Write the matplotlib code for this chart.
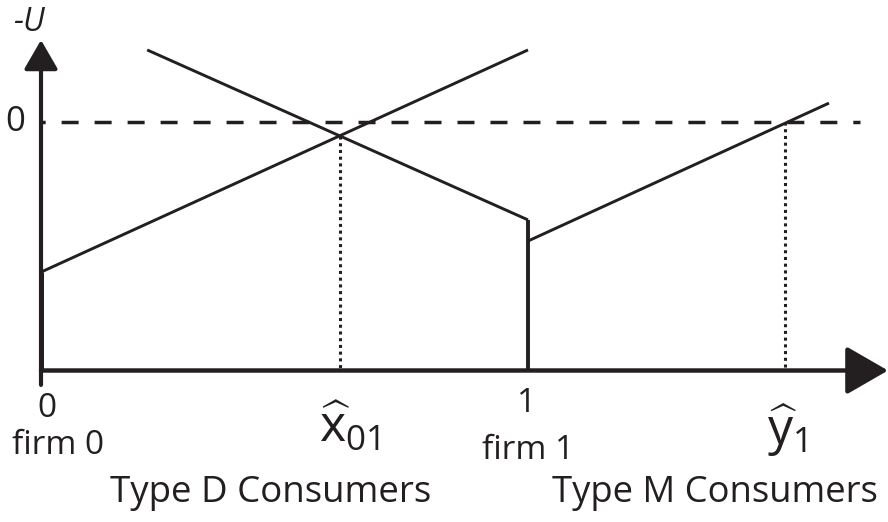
import matplotlib
matplotlib.use("Agg")
import matplotlib.pyplot as plt

plt.rcParams["mathtext.fontset"] = "custom"
plt.rcParams["mathtext.rm"] = "Open Sans"
plt.rcParams["mathtext.it"] = "Open Sans:italic"

# ---- data ----
firm_x = [0.0, 1.0]                 # firm locations
firm_labels = ["firm 0", "firm 1"]
tick_labels = ["0", "1"]
base_u = -1.0                       # level of the horizontal axis

d_firm0_x = [0.0, 1.0]              # Type D consumers, utility cost from firm 0
d_firm0_u = [-0.604, 0.290]
d_firm1_x = [0.218, 1.0]            # Type D consumers, utility cost from firm 1
d_firm1_u = [0.290, -0.394]
m_firm1_x = [1.0, 1.618]            # Type M consumers, utility cost from firm 1
m_firm1_u = [-0.479, 0.076]

x_hat01 = 0.614                     # indifferent type D consumer
u_hat01 = -0.056
y_hat1 = 1.528                      # marginal type M consumer
zero_line_end = 1.682
group_labels = ["Type D Consumers", "Type M Consumers"]
hat_labels = [r"$\widehat{\mathrm{x}}_{\mathrm{01}}$",
              r"$\widehat{\mathrm{y}}_{\mathrm{1}}$"]

INK = "#231f20"
FONT = "Open Sans"

fig = plt.figure(figsize=(8.88, 5.22), dpi=100)
ax = fig.add_axes([0, 0, 1, 1])
ax.set_xlim(-41 / 487, 847 / 487)
ax.set_ylim(-400 / 248.5, 122 / 248.5)
ax.axis("off")

# axes with arrows
ax.annotate("", xy=(ax.get_xlim()[1], base_u), xytext=(0, base_u),
            arrowprops=dict(arrowstyle="-|>,head_length=1.3,head_width=0.75",
                            lw=3.2, color=INK, shrinkA=0, shrinkB=0,
                            mutation_scale=20))
ax.annotate("", xy=(0, 0.330), xytext=(0, -1.058),
            arrowprops=dict(arrowstyle="-|>,head_length=0.9,head_width=0.52",
                            lw=3.0, color=INK, shrinkA=0, shrinkB=0,
                            mutation_scale=20))

# zero reference line
ax.plot([0, zero_line_end], [0, 0], color=INK, lw=2.5,
        linestyle=(3.7, (4.9, 4.6)), dash_capstyle="butt")

# utility lines
for xs, us in [(d_firm0_x, d_firm0_u), (d_firm1_x, d_firm1_u),
               (m_firm1_x, m_firm1_u)]:
    ax.plot(xs, us, color=INK, lw=2.1, solid_capstyle="butt")

# thick verticals at firm locations
ax.plot([firm_x[0], firm_x[0]], [base_u, d_firm0_u[0]], color=INK, lw=3.6,
        solid_capstyle="butt")
ax.plot([firm_x[1], firm_x[1]], [base_u, d_firm1_u[-1]], color=INK, lw=2.8,
        solid_capstyle="butt")

# dotted drop lines
ax.plot([x_hat01, x_hat01], [u_hat01, base_u], color=INK, lw=2.2,
        linestyle=(0, (1, 1.2)), dash_capstyle="butt")
ax.plot([y_hat1, y_hat1], [0, base_u], color=INK, lw=2.2,
        linestyle=(0, (1, 1.2)), dash_capstyle="butt")

# ---- text ----
ax.text(-0.025, 0.402, "-U", fontsize=23, style="italic", family=FONT,
        color=INK, ha="center", va="center")
ax.text(-0.053, 0.0, "0", fontsize=25, family=FONT, color=INK,
        ha="center", va="center")

ax.text(firm_x[0] + 0.012, -1.151, tick_labels[0], fontsize=24, family=FONT,
        color=INK, ha="center", va="center")
ax.text(firm_x[1] - 0.002, -1.131, tick_labels[1], fontsize=24, family=FONT,
        color=INK, ha="center", va="center")
ax.text(firm_x[0] + 0.035, -1.300, firm_labels[0], fontsize=24, family=FONT,
        color=INK, ha="center", va="center")
ax.text(firm_x[1], -1.320, firm_labels[1], fontsize=24, family=FONT,
        color=INK, ha="center", va="center")

ax.text(0.472, -1.493, group_labels[0], fontsize=26.4, family=FONT,
        color=INK, ha="center", va="center")
ax.text(1.384, -1.493, group_labels[1], fontsize=26.2, family=FONT,
        color=INK, ha="center", va="center")

# hatted labels, one text each
ax.text(x_hat01 - 0.043, -1.292, hat_labels[0], fontsize=36, color=INK,
        ha="left", va="baseline")
ax.text(y_hat1 - 0.037, -1.300, hat_labels[1], fontsize=36, color=INK,
        ha="left", va="baseline")

fig.savefig("out.png", dpi=100)
